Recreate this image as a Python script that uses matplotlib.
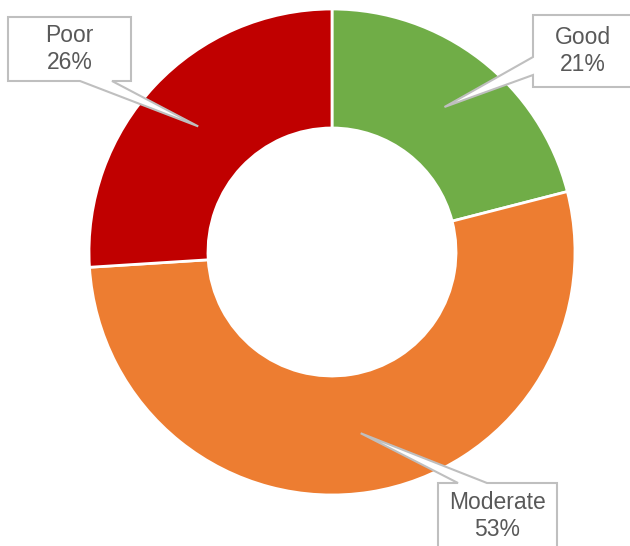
import numpy as np
import matplotlib.pyplot as plt
from matplotlib.patches import Polygon

plt.rcParams['font.family'] = ['Liberation Sans', 'DejaVu Sans']

categories = ['Good', 'Moderate', 'Poor']
shares = [21, 53, 26]
colors = ['#70ad47', '#ed7d31', '#c00000']

W, H = 630, 546
center = (332, H - 252)
outer = 243
ring = 119

fig = plt.figure(figsize=(W / 100, H / 100), dpi=100)
ax = fig.add_axes([0, 0, 1, 1])
ax.set_xlim(0, W)
ax.set_ylim(0, H)
ax.set_aspect('equal')
ax.axis('off')

wedges, _ = ax.pie(shares, colors=colors, startangle=90, counterclock=False,
                   center=center, radius=outer, frame=True,
                   wedgeprops=dict(width=ring, edgecolor='white', linewidth=2))
ax.set_xlim(0, W)
ax.set_ylim(0, H)
ax.axis('off')

# label boxes: (left, top, right, bottom) in pixels from top, plus where the pointer leaves the box
boxes = {
    'Good': dict(rect=(533, 15, 633, 87), side='left', base=(57, 75)),
    'Moderate': dict(rect=(438, 483, 557, 552), side='top', base=(458, 487)),
    'Poor': dict(rect=(8, 17, 131, 81), side='bottom', base=(80, 112)),
}

for w, name, val in zip(wedges, categories, shares):
    mid = np.deg2rad((w.theta1 + w.theta2) / 2)
    r = outer - ring / 2
    tip = (center[0] + r * np.cos(mid), center[1] + r * np.sin(mid))
    b = boxes[name]
    x0, t, x1, bt = b['rect']
    y0, y1 = H - bt, H - t
    a, c = b['base']
    if b['side'] == 'bottom':
        pts = [(x0, y1), (x1, y1), (x1, y0), (c, y0), tip, (a, y0), (x0, y0)]
    elif b['side'] == 'top':
        pts = [(x0, y1), (a, y1), tip, (c, y1), (x1, y1), (x1, y0), (x0, y0)]
    else:
        pts = [(x0, y1), (x1, y1), (x1, y0), (x0, y0), (x0, H - c), tip, (x0, H - a)]
    ax.add_patch(Polygon(pts, closed=True, facecolor='white', edgecolor='#bfbfbf',
                         linewidth=1.5, zorder=3))
    ty = (y0 + y1) / 2 if b['side'] != 'top' else H - 516
    ax.text((x0 + x1) / 2, ty, f'{name}\n{val}%', ha='center', va='center',
            fontsize=16.5, color='#595959', linespacing=1.2, zorder=4)

fig.savefig('out.png', dpi=100)
